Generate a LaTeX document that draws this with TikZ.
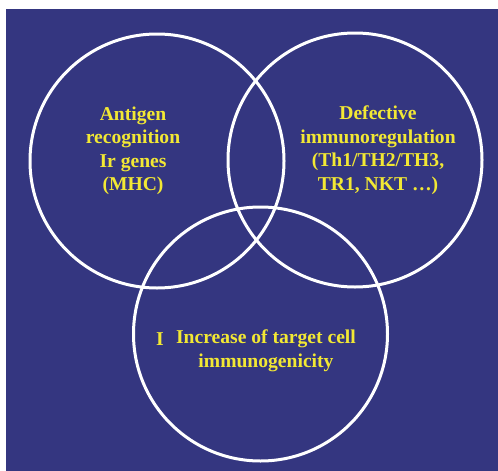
\documentclass[tikz,border=0pt]{standalone}
\usepackage{fontspec}
\setmainfont{Liberation Serif}
\definecolor{bgblue}{RGB}{52,54,128}
\definecolor{txtyellow}{RGB}{242,232,52}
\begin{document}
\begin{tikzpicture}[x=1pt,y=-1pt,
  ring/.style={draw=white,line width=3pt},
  lbl/.style={text=txtyellow,font=\bfseries\fontsize{19.6}{23.5}\selectfont,align=center,inner sep=0pt}]
\useasboundingbox (0,0) rectangle (498,471);
\fill[white] (0,0) rectangle (498,471);
\fill[bgblue] (6,9) rectangle (498,471);
\node[ring,circle,minimum size=254pt,inner sep=0pt] (cl) at (157,161) {};
\node[ring,circle,minimum size=254pt,inner sep=0pt] (cr) at (355,160) {};
\node[ring,circle,minimum size=254pt,inner sep=0pt] (cb) at (260.5,334) {};
\node[lbl] (tl) at (133,151) {Antigen\\recognition\\Ir genes\\(MHC)};
\node[lbl] (tr) at (378,150) {Defective\\immunoregulation\\(Th1/TH2/TH3,\\TR1, NKT \dots)};
\node[lbl] (tb) at (266,351) {Increase of target cell\\immunogenicity};
\node[lbl] (ti) at (160,339) {I};
\end{tikzpicture}
\end{document}
